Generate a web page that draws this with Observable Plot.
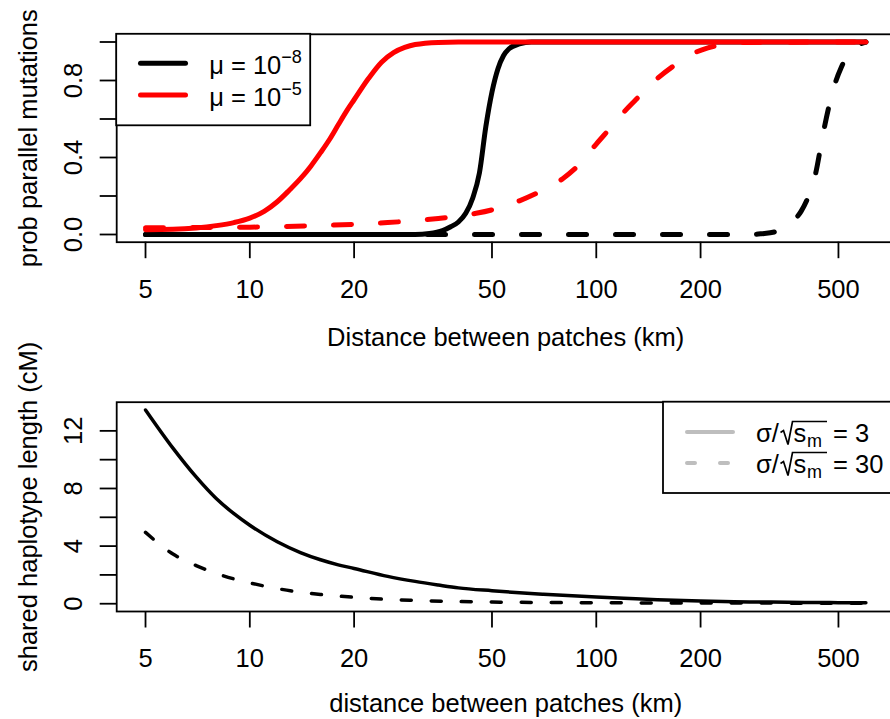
<!DOCTYPE html>
<html>
<head>
<meta charset="utf-8">
<script src="https://cdn.jsdelivr.net/npm/d3@7"></script>
<script src="https://cdn.jsdelivr.net/npm/@observablehq/plot@0.6"></script>
<style>
  html, body { margin: 0; padding: 0; background: #fff; overflow: hidden; }
  #chart { position: relative; width: 890px; height: 719px; overflow: hidden; }
  #chart svg { display: block; }
</style>
</head>
<body>
<div id="chart"></div>
<script>
const FONT = "'Liberation Sans', Arial, Helvetica, sans-serif";
const FS = 25.5;

// ---- axis ticks & labels ----
const xTicks = [5, 10, 20, 50, 100, 200, 500];
const topYTicks = [0, 0.2, 0.4, 0.6, 0.8, 1.0];
const topYLabels = [0, 0.4, 0.8];
const botYTicks = [0, 2, 4, 6, 8, 10, 12];
const botYLabels = [0, 4, 8, 12];
const topXTitle = "Distance between patches (km)";
const topYTitle = "prob parallel mutations";
const botXTitle = "distance between patches (km)";
const botYTitle = "shared haplotype length (cM)";

// ---- top panel: probability of parallel mutations ----
// mu = 1e-8, sigma/sqrt(s_m) = 3 (black solid)
const bsKm = [5, 30, 33, 36, 38, 40, 42, 44, 46, 48, 50, 52, 54, 56, 60, 65, 600];
const bsP  = [0, 0, 0.005, 0.02, 0.04, 0.065, 0.11, 0.19, 0.32, 0.56, 0.74, 0.86, 0.93, 0.965, 0.99, 1, 1];
// mu = 1e-8, sigma/sqrt(s_m) = 30 (black dashed)
const bdKm = [5, 280, 300, 330, 350, 370, 390, 410, 430, 450, 470, 490, 510, 530, 560, 600];
const bdP  = [0, 0, 0.004, 0.015, 0.035, 0.07, 0.12, 0.20, 0.32, 0.51, 0.67, 0.79, 0.87, 0.93, 0.975, 1];
// mu = 1e-5, sigma/sqrt(s_m) = 3 (red solid)
const rsKm = [5, 6, 7, 8, 9, 10, 11, 12, 13, 14, 15, 16, 17, 18, 19, 20, 22, 24, 26, 28, 30, 35, 40, 600];
const rsP  = [0.025, 0.027, 0.034, 0.046, 0.062, 0.085, 0.12, 0.17, 0.23, 0.29, 0.355, 0.425, 0.495, 0.57, 0.64, 0.70, 0.81, 0.895, 0.945, 0.972, 0.987, 0.998, 1, 1];
// mu = 1e-5, sigma/sqrt(s_m) = 30 (red dashed)
const rdKm = [5, 10, 15, 20, 25, 30, 35, 40, 45, 50, 60, 70, 80, 90, 100, 110, 120, 130, 140, 150, 170, 190, 210, 240, 270, 600];
const rdP  = [0.035, 0.038, 0.045, 0.053, 0.062, 0.072, 0.083, 0.095, 0.11, 0.128, 0.175, 0.23, 0.29, 0.37, 0.47, 0.555, 0.635, 0.70, 0.76, 0.81, 0.885, 0.94, 0.97, 0.99, 0.998, 1];

// ---- bottom panel: shared haplotype length (cM) ----
const hsKm = [5, 6, 7, 8, 9, 10, 12, 14, 16, 18, 20, 25, 30, 35, 40, 50, 60, 70, 80, 100, 120, 150, 200, 250, 300, 400, 500, 600];
const hsL  = [13.45, 10.8, 8.8, 7.3, 6.25, 5.45, 4.3, 3.55, 3.05, 2.7, 2.45, 1.9, 1.55, 1.3, 1.1, 0.9, 0.76, 0.66, 0.58, 0.46, 0.38, 0.28, 0.19, 0.14, 0.12, 0.09, 0.075, 0.065];
const hdKm = [5, 6, 7, 8, 9, 10, 12, 14, 16, 18, 20, 25, 30, 40, 50, 70, 100, 200, 400, 600];
const hdL  = [4.95, 3.45, 2.65, 2.1, 1.72, 1.45, 1.05, 0.8, 0.64, 0.53, 0.45, 0.30, 0.23, 0.15, 0.115, 0.085, 0.065, 0.05, 0.04, 0.035];

// ---- legends ----
const muLegend = [{color: "black", exp: "8"}, {color: "red", exp: "5"}];
const sigmaLegend = [{dash: null, value: "3"}, {dash: "8,25", value: "30"}];

const zip = (xs, ys) => xs.map((x, i) => ({km: x, v: ys[i]}));

// R-style 4% axis extension, log x from 5 to 600 km
const lx0 = Math.log10(5), lx1 = Math.log10(600), ext = 0.04 * (lx1 - lx0);
const xDomain = [Math.pow(10, lx0 - ext), Math.pow(10, lx1 + ext)];

function frameMarks(cfg) {
  return [
    Plot.frame({stroke: "black", strokeWidth: 1.8}),
    Plot.axisX({ticks: xTicks, tickSize: 16.5, tickFormat: () => "", strokeWidth: 1.8}),
    Plot.text(xTicks, {x: d => d, text: d => String(d), frameAnchor: "bottom", dy: cfg.labelDy,
      textAnchor: "middle", lineAnchor: "middle", fontSize: FS, fill: "black"}),
    Plot.axisY({ticks: cfg.yTicks, tickSize: 16.5, tickFormat: () => "", strokeWidth: 1.8}),
    Plot.text(cfg.yLabels, {y: d => d, text: cfg.yFmt, frameAnchor: "left", dx: -43, rotate: -90,
      textAnchor: "middle", lineAnchor: "middle", fontSize: FS, fill: "black"}),
    Plot.text([cfg.yTitle], {text: d => d, frameAnchor: "left", dx: -87.5, rotate: -90,
      textAnchor: "middle", lineAnchor: "middle", fontSize: FS, fill: "black"}),
    Plot.text([cfg.xTitle], {text: d => d, frameAnchor: "bottom", dy: cfg.titleDy,
      textAnchor: "middle", lineAnchor: "middle", fontSize: FS, fill: "black"})
  ];
}

const lineOpts = {x: "km", y: "v", curve: "monotone-x", strokeLinecap: "round", strokeLinejoin: "round"};

// ---------------- top plot ----------------
const topPlot = Plot.plot({
  width: 890, height: 360,
  marginLeft: 116.2, marginRight: -4.2, marginTop: 33.8, marginBottom: 118.3,
  style: {fontFamily: FONT, fontSize: FS + "px", color: "black", background: "white"},
  x: {type: "log", domain: xDomain, label: null},
  y: {domain: [-0.04, 1.04], label: null},
  marks: [
    ...frameMarks({labelDy: 47.3, titleDy: 95.3, yTicks: topYTicks, yLabels: topYLabels,
      yFmt: d => d.toFixed(1), yTitle: topYTitle, xTitle: topXTitle}),
    Plot.line(zip(bsKm, bsP), {...lineOpts, stroke: "black", strokeWidth: 5}),
    Plot.line(zip(bdKm, bdP), {...lineOpts, stroke: "black", strokeWidth: 5, strokeDasharray: "18,29"}),
    Plot.line(zip(rsKm, rsP), {...lineOpts, stroke: "#ff0000", strokeWidth: 5}),
    Plot.line(zip(rdKm, rdP), {...lineOpts, stroke: "#ff0000", strokeWidth: 5, strokeDasharray: "18,29"})
  ]
});

// ---------------- bottom plot ----------------
const botPlot = Plot.plot({
  width: 890, height: 359,
  marginLeft: 116.2, marginRight: -4.2, marginTop: 41.7, marginBottom: 108,
  style: {fontFamily: FONT, fontSize: FS + "px", color: "black", background: "transparent", overflow: "visible"},
  x: {type: "log", domain: xDomain, label: null},
  y: {domain: [-0.54, 13.99], label: null},
  marks: [
    ...frameMarks({labelDy: 47, titleDy: 92.5, yTicks: botYTicks, yLabels: botYLabels,
      yFmt: d => String(d), yTitle: botYTitle, xTitle: botXTitle}),
    Plot.line(zip(hsKm, hsL), {...lineOpts, stroke: "black", strokeWidth: 3.5}),
    Plot.line(zip(hdKm, hdL), {...lineOpts, stroke: "black", strokeWidth: 3.5, strokeDasharray: "10,20"})
  ]
});

// ---------------- legends ----------------
(function () {
  const L = 116.2, T = 33.8;
  const g = d3.select(topPlot).append("g").attr("font-family", FONT).attr("fill", "black")
    .attr("text-anchor", "start");
  g.append("rect").attr("x", L).attr("y", T).attr("width", 194).attr("height", 91.5)
    .attr("fill", "white").attr("stroke", "black").attr("stroke-width", 1.8);
  muLegend.forEach((d, i) => {
    const cy = T + 29.5 + i * 31.7;
    g.append("line").attr("x1", L + 24.3).attr("x2", L + 69.3).attr("y1", cy).attr("y2", cy)
      .attr("stroke", d.color).attr("stroke-width", 5).attr("stroke-linecap", "round");
    const t = g.append("text").attr("x", L + 93).attr("y", cy + 10.5).attr("font-size", FS)
      .attr("text-anchor", "start");
    t.append("tspan").text("μ = 10");
    t.append("tspan").attr("dy", -10.5).attr("font-size", 18).text("\u2212" + d.exp);
  });
})();

(function () {
  const X = 663, T = 41.7;
  const g = d3.select(botPlot).append("g").attr("font-family", FONT).attr("fill", "black")
    .attr("text-anchor", "start");
  g.append("rect").attr("x", X).attr("y", T).attr("width", 260).attr("height", 91.3)
    .attr("fill", "white").attr("stroke", "black").attr("stroke-width", 1.8);
  sigmaLegend.forEach((d, i) => {
    const cy = 72 + i * 31;
    const base = cy + 9.5;
    const ln = g.append("line").attr("x1", 687).attr("x2", d.dash ? 728 : 733).attr("y1", cy).attr("y2", cy)
      .attr("stroke", "#bebebe").attr("stroke-width", 4).attr("stroke-linecap", "round");
    if (d.dash) ln.attr("stroke-dasharray", d.dash);
    g.append("text").attr("x", 756).attr("y", base).attr("font-size", FS).text("σ/");
    g.append("path")
      .attr("d", `M780.5,${base - 9} L783.5,${base - 11} L788,${base + 3} L792.5,${base - 20} L827,${base - 20}`)
      .attr("fill", "none").attr("stroke", "black").attr("stroke-width", 1.7).attr("stroke-linejoin", "miter");
    g.append("text").attr("x", 793.5).attr("y", base).attr("font-size", FS).text("s");
    g.append("text").attr("x", 807).attr("y", base + 5).attr("font-size", 18).text("m");
    g.append("text").attr("x", 833).attr("y", base).attr("font-size", FS).text("= " + d.value);
  });
})();

const chart = document.getElementById("chart");
chart.appendChild(topPlot);
chart.appendChild(botPlot);
</script>
</body>
</html>
